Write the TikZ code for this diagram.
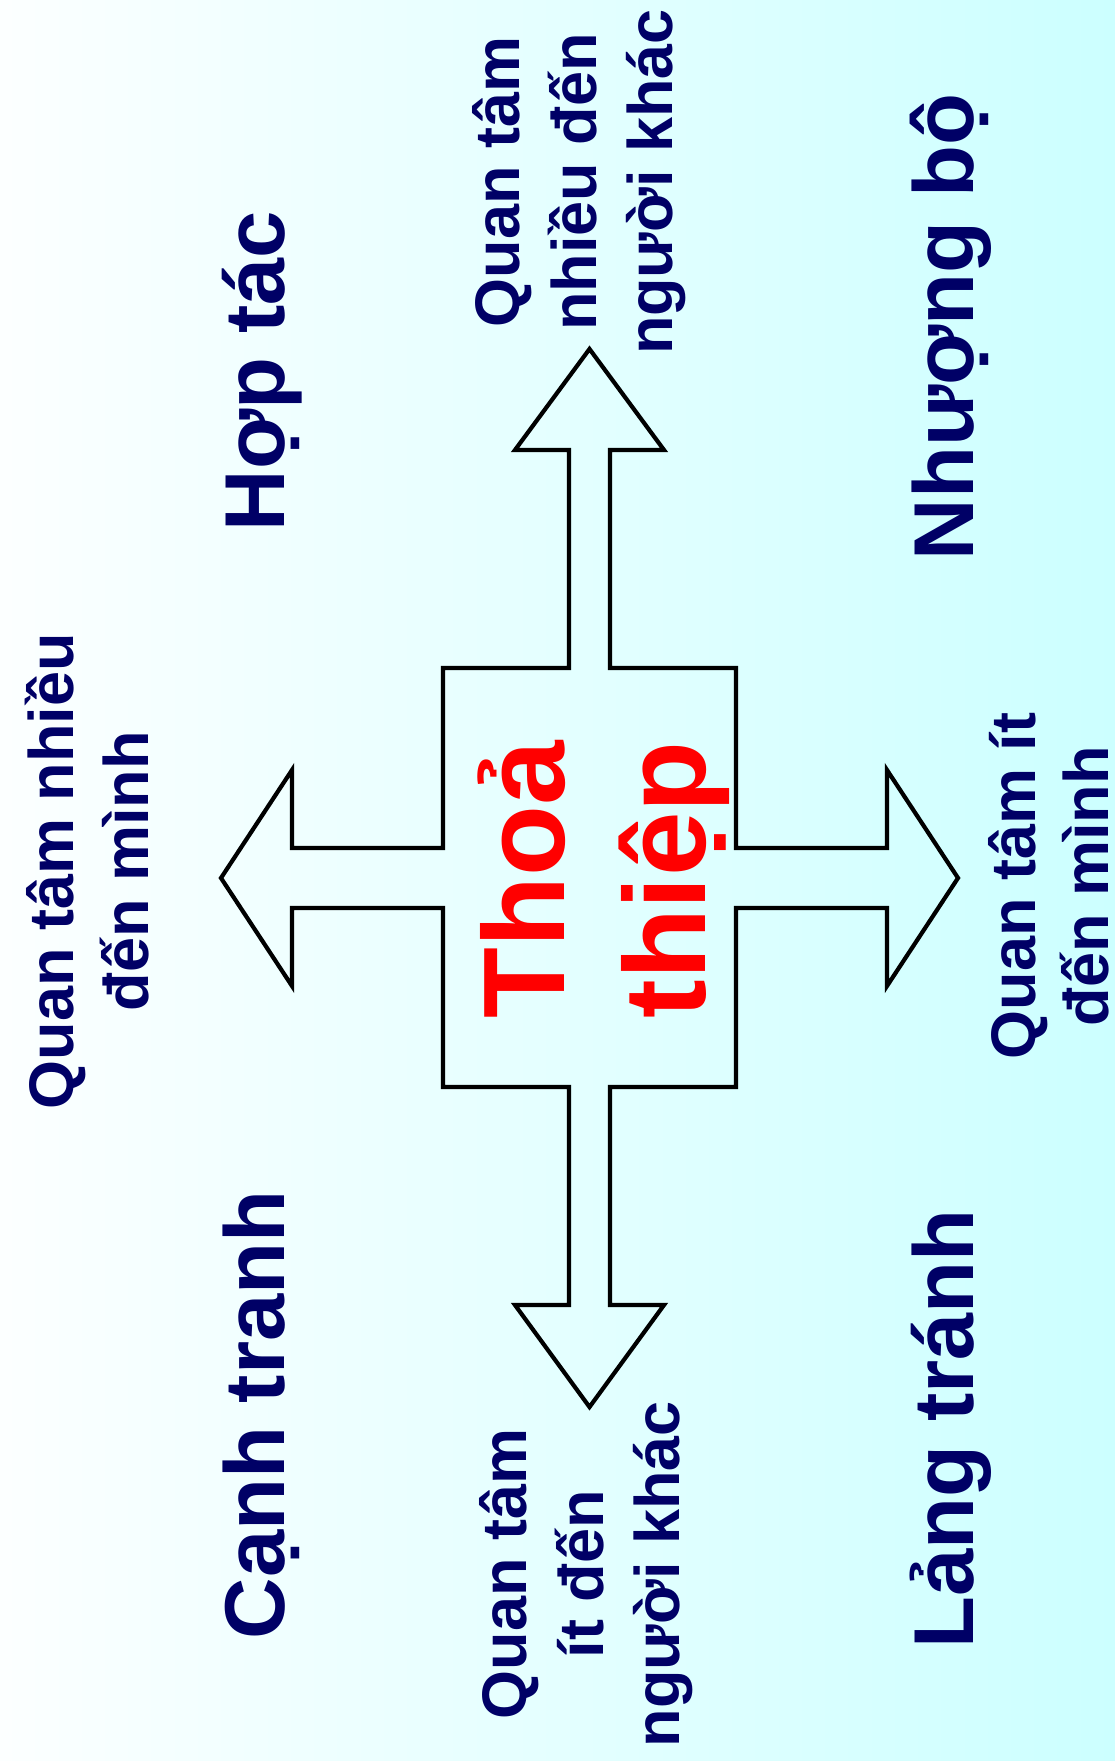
\documentclass[tikz,border=0pt]{standalone}
\usepackage{fontspec}
\setmainfont{Liberation Sans}
\definecolor{navy}{RGB}{0,0,102}
\definecolor{bgright}{RGB}{204,255,255}
\definecolor{bgleft}{RGB}{252,255,255}
\begin{document}
\begin{tikzpicture}[x=1pt,y=-1pt,
  bigtext/.style={rotate=90,anchor=base,inner sep=0pt,text=navy,font=\bfseries\fontsize{85}{100}\selectfont},
  smalltext/.style={rotate=90,anchor=base,inner sep=0pt,text=navy,font=\bfseries\fontsize{63}{76}\selectfont},
  midtext/.style={rotate=90,anchor=base,inner sep=0pt,text=red,font=\bfseries\fontsize{116}{140}\selectfont},
  crossline/.style={draw=black,line width=4.2pt,line join=miter,miter limit=10}]
\useasboundingbox (0,0) rectangle (1115,1761);
\shade[left color=bgleft,right color=bgright] (0,0) rectangle (1115,1761);
% cross of four arrows
\draw[crossline] (589.5,349) -- (664,450) -- (610,450) -- (610,668) -- (736,668) -- (736,848)
  -- (887,848) -- (887,770) -- (958,878) -- (887,986) -- (887,908) -- (736,908) -- (736,1087)
  -- (610,1087) -- (610,1305) -- (664,1305) -- (589.5,1407) -- (515,1305) -- (569,1305)
  -- (569,1087) -- (443,1087) -- (443,908) -- (292,908) -- (292,986) -- (221,878) -- (292,770)
  -- (292,848) -- (443,848) -- (443,668) -- (569,668) -- (569,450) -- (515,450) -- cycle;
% centre
\node[midtext] (mid1) at (564,880) {Thoả};
\node[midtext] (mid2) at (705,880) {thiệp};
% quadrant labels
\node[bigtext] (hoptac) at (284.5,371) {Hợp tác};
\node[bigtext] (nhuongbo) at (973,327) {Nhượng bộ};
\node[bigtext] (canhtranh) at (284.5,1415) {Cạnh tranh};
\node[bigtext] (langtranh) at (973,1429) {Lảng tránh};
% arrow labels
\node[smalltext] (top1) at (519,182) {Quan tâm};
\node[smalltext] (top2) at (596,182) {nhiều đến};
\node[smalltext] (top3) at (672,182) {người khác};
\node[smalltext] (bot1) at (526,1574) {Quan tâm};
\node[smalltext] (bot2) at (603,1574) {ít đến};
\node[smalltext] (bot3) at (679,1574) {người khác};
\node[smalltext] (left1) at (73,871) {Quan tâm nhiều};
\node[smalltext] (left2) at (148,871) {đến mình};
\node[smalltext] (right1) at (1035,886) {Quan tâm ít};
\node[smalltext,text depth=0pt] (right2) at (1108,886) {đến mình};
\end{tikzpicture}
\end{document}
